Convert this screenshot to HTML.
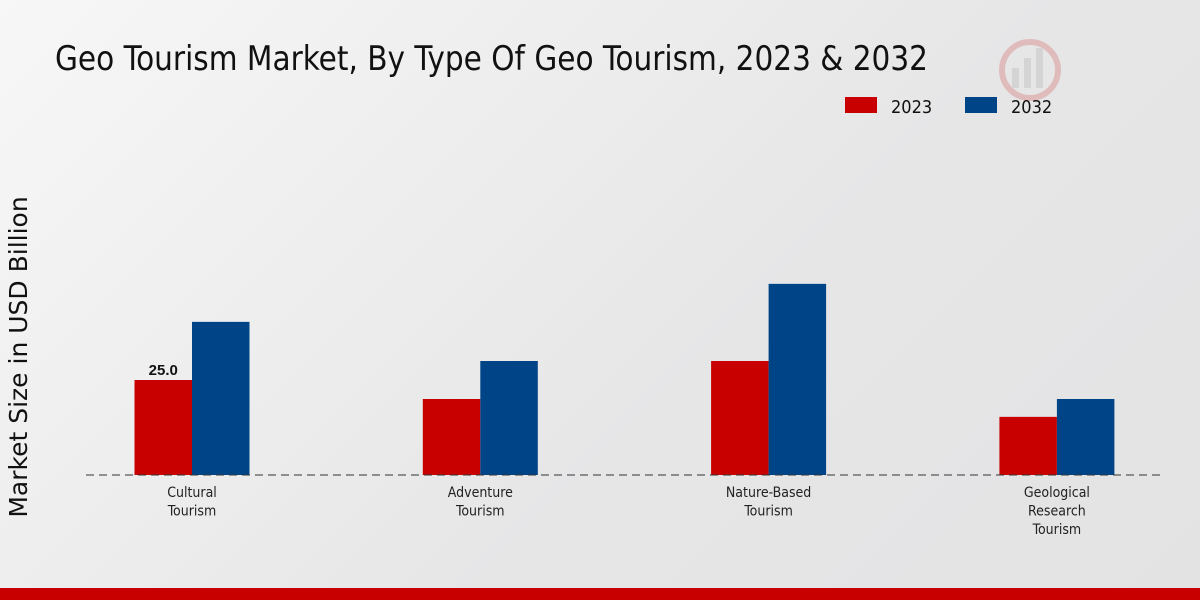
<!DOCTYPE html>
<html><head><meta charset="utf-8">
<style>
html,body{margin:0;padding:0;width:1200px;height:600px;overflow:hidden;}
body{background:linear-gradient(135deg,#f7f7f7 0%,#e6e6e7 60%,#e3e3e4 100%);font-family:"Liberation Sans",sans-serif;}
</style></head>
<body>
<svg id="chart" width="1200" height="600" xmlns="http://www.w3.org/2000/svg">
  <text x="55" y="70" font-size="34" fill="#111" font-family="DejaVu Sans Condensed, Liberation Sans Narrow, Liberation Sans, sans-serif" textLength="873" lengthAdjust="spacingAndGlyphs">Geo Tourism Market, By Type Of Geo Tourism, 2023 &amp; 2032</text>
  <g>
    <rect x="845" y="97" width="32" height="16" fill="#c80000"/>
    <text x="891" y="113" font-size="18" fill="#111" font-family="DejaVu Sans Condensed, Liberation Sans, sans-serif">2023</text>
    <rect x="965" y="97" width="32" height="16" fill="#004488"/>
    <text x="1011" y="113" font-size="18" fill="#111" font-family="DejaVu Sans Condensed, Liberation Sans, sans-serif">2032</text>
  </g>
  <text transform="translate(27,357) rotate(-90)" text-anchor="middle" font-size="25" fill="#111" font-family="DejaVu Sans, Liberation Sans, sans-serif">Market Size in USD Billion</text>
  <g id="bars"></g>
  <line x1="86" y1="475" x2="1165" y2="475" stroke="#333" stroke-width="1" stroke-dasharray="8,5"/>
  <g id="labels"></g>
  <g opacity="0.18">
    <circle cx="1030" cy="70" r="28" fill="none" stroke="#c80000" stroke-width="6"/>
    <rect x="1012" y="68" width="7" height="20" fill="#888"/>
    <rect x="1024" y="58" width="7" height="30" fill="#888"/>
    <rect x="1036" y="48" width="7" height="40" fill="#888"/>
  </g>
  <rect x="0" y="588" width="1200" height="12" fill="#c80000"/>
</svg>
<script>
const categories = [["Cultural","Tourism"],["Adventure","Tourism"],["Nature-Based","Tourism"],["Geological","Research","Tourism"]];
const values2023 = [25.0, 20, 30, 15.3];
const values2032 = [40.3, 30, 50.3, 20];
const shownLabels = ["25.0", null, null, null];

const NS = "http://www.w3.org/2000/svg";
const baseY = 475, pxPerUnit = 3.8, x0 = 192, step = 288.3, bw = 57.5;
function yScale(v){ return baseY - v * pxPerUnit; }
function xCenter(i){ return x0 + i * step; }
const bars = document.getElementById('bars');
const labels = document.getElementById('labels');
categories.forEach((cat, i) => {
  [[values2023, '#c80000', -bw, '2023'], [values2032, '#004488', 0, '2032']].forEach(([arr, col, off, yr]) => {
    const r = document.createElementNS(NS, 'rect');
    
    
    r.setAttribute('x', xCenter(i) + off);
    r.setAttribute('y', yScale(arr[i]));
    r.setAttribute('width', bw);
    r.setAttribute('height', baseY - yScale(arr[i]));
    r.setAttribute('fill', col);
    bars.appendChild(r);
  });
  if (shownLabels[i]) {
    const t = document.createElementNS(NS, 'text');
    
    
    t.setAttribute('x', xCenter(i) - bw / 2);
    t.setAttribute('y', yScale(values2023[i]) - 5);
    t.setAttribute('text-anchor', 'middle');
    t.setAttribute('font-size', '15');
    t.setAttribute('font-weight', 'bold');
    t.setAttribute('fill', '#111');
    t.textContent = shownLabels[i];
    labels.appendChild(t);
  }
  cat.forEach((line, j) => {
    const t = document.createElementNS(NS, 'text');
    
    
    t.setAttribute('x', xCenter(i));
    t.setAttribute('y', 497 + j * 18.5);
    t.setAttribute('text-anchor', 'middle');
    t.setAttribute('font-size', '14');
    t.setAttribute('fill', '#222');
    t.setAttribute('font-family', 'DejaVu Sans Condensed, Liberation Sans, sans-serif');
    t.textContent = line;
    labels.appendChild(t);
  });
});
</script>
</body></html>
